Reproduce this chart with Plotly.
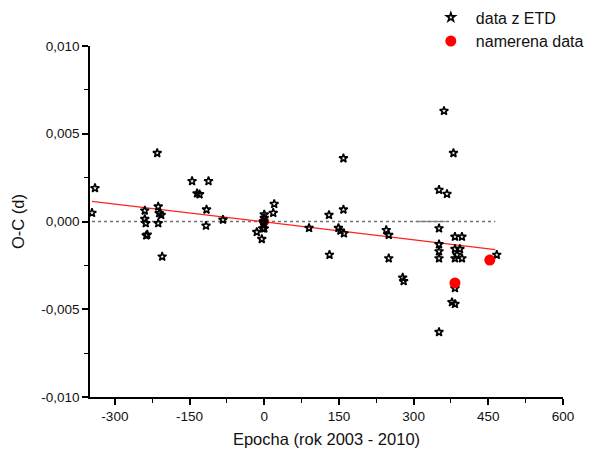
import plotly.graph_objects as go

# ETD data (epoch, O-C in days)
etd_epoch = [-346, -340, -240, -240, -238, -237, -235, -215, -213, -211, -207, -213, -205,
             -145, -112, -135, -130, -116, -117, -83,
             0, 0, -2, -1, -3, 0, -15, -5, 20, 18,
             90, 130, 131, 149, 153, 160, 159, 159,
             245, 250, 250, 278, 280,
             351, 367, 361, 380, 351, 351, 351, 351,
             383, 397, 383, 393, 387, 383, 397, 383, 377, 383, 351, 467]
etd_oc = [0.00049, 0.0019, 0.00062, 0.00014, -0.0001, -0.0008, -0.00075, 0.0039, 0.00085, 0.00047, 0.00037, -0.0001, -0.002,
          0.0023, 0.0023, 0.0016, 0.00155, 0.00068, -0.00024, 0.0001,
          0.0004, 0.0002, 0.0, -0.0001, -0.0004, -0.0004, -0.0006, -0.001, 0.001, 0.00049,
          -0.00037, 0.00037, -0.0019, -0.00037, -0.00052, -0.00068, 0.0036, 0.00068,
          -0.00049, -0.00077, -0.0021, -0.0032, -0.0034,
          0.0018, 0.00157, 0.0063, 0.0039, -0.00039, -0.0013, -0.0017, -0.0021,
          -0.00087, -0.00087, -0.00157, -0.00157, -0.0019, -0.0021, -0.0021, -0.0038, -0.0046, -0.0047, -0.0063, -0.0019]

# measured data (first point is hidden beneath the ETD cluster)
meas0_epoch = [0]
meas0_oc = [0.0]
meas_epoch = [383, 453]
meas_oc = [-0.0035, -0.0022]

# linear fit endpoints
fit_epoch = [-346, 464]
fit_oc = [0.00115, -0.00160]

# zero reference line
zero_epoch = [-346, 464]
zero_oc = [0.0, 0.0]
seg_epoch = [304, 364]
seg_oc = [0.0, 0.0]

x_ticks = [-300, -150, 0, 150, 300, 450, 600]
x_ticktext = ["-300", "-150", "0", "150", "300", "450", "600"]
y_ticks = [-0.010, -0.005, 0.0, 0.005, 0.010]
y_ticktext = ["-0,010", "-0,005", "0,000", "0,005", "0,010"]

fig = go.Figure()
fig.add_trace(go.Scatter(x=zero_epoch, y=zero_oc, mode="lines",
                         line=dict(color="#707070", width=1.3, dash="dot"),
                         showlegend=False, hoverinfo="skip"))
fig.add_trace(go.Scatter(x=seg_epoch, y=seg_oc, mode="lines",
                         line=dict(color="#808080", width=1.3),
                         showlegend=False, hoverinfo="skip"))
fig.add_trace(go.Scatter(x=fit_epoch, y=fit_oc, mode="lines",
                         line=dict(color="#ff2020", width=1.2),
                         showlegend=False, hoverinfo="skip"))
fig.add_trace(go.Scatter(x=meas0_epoch, y=meas0_oc, mode="markers",
                         marker=dict(symbol="circle", size=10, color="#ff0000", line=dict(width=0)),
                         showlegend=False))
fig.add_trace(go.Scatter(x=etd_epoch, y=etd_oc, mode="markers", name="data z ETD",
                         marker=dict(symbol="star-open", size=6.5, color="black",
                                     line=dict(color="black", width=1.6))))
fig.add_trace(go.Scatter(x=meas_epoch, y=meas_oc, mode="markers", name="namerena data",
                         marker=dict(symbol="circle", size=11, color="#ff0000",
                                     line=dict(width=0))))

axis_font = dict(family="Liberation Sans, Arial, sans-serif", size=13.5, color="#111111")
fig.update_layout(
    width=593, height=453,
    margin=dict(l=90, r=30, t=46, b=56, autoexpand=False),
    paper_bgcolor="white", plot_bgcolor="white",
    font=dict(family="Liberation Sans, Arial, sans-serif", size=13, color="#111111"),
    legend=dict(x=0.71, y=1.13, xanchor="left", yanchor="top",
                font=dict(size=16, color="#111111"), bgcolor="rgba(0,0,0,0)",
                tracegroupgap=0, itemwidth=40),
    xaxis=dict(range=[-350, 600], showgrid=False, zeroline=False,
               showline=True, linecolor="black", linewidth=1.5,
               ticks="outside", ticklen=6, tickwidth=1.5, tickcolor="black",
               tickvals=x_ticks, ticktext=x_ticktext, tickfont=axis_font,
               minor=dict(dtick=75, tick0=0, ticks="outside", ticklen=4, tickwidth=1.2, tickcolor="black"),
               title=dict(text="Epocha (rok 2003 - 2010)", font=dict(size=16.5, color="#111111"), standoff=10)),
    yaxis=dict(range=[-0.010, 0.010], showgrid=False, zeroline=False,
               showline=True, linecolor="black", linewidth=1.5,
               ticks="outside", ticklen=6, tickwidth=1.5, tickcolor="black",
               tickvals=y_ticks, ticktext=y_ticktext, tickfont=axis_font,
               minor=dict(dtick=0.0025, tick0=0, ticks="outside", ticklen=4, tickwidth=1.2, tickcolor="black"),
               title=dict(text="O-C (d)", font=dict(size=16.5, color="#111111"), standoff=12)),
)
fig.write_html("out.html")
